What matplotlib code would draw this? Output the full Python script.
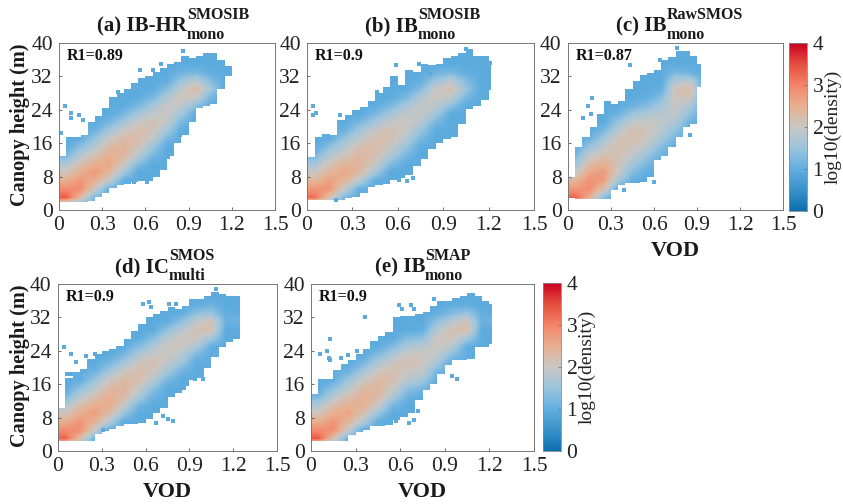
import numpy as np
import matplotlib
matplotlib.use("Agg")
import matplotlib.pyplot as plt
from matplotlib.colors import LinearSegmentedColormap
from matplotlib.patches import Polygon

plt.rcParams['font.family'] = ['Liberation Serif', 'DejaVu Serif']

# log10(density) read per VOD column (width 0.1); each column: first height-row centre, then values every 2 m
A_START = [1, 1, 1, 5, 7, 9, 11, 15, 19, 23, 25, 29]
A_VALS = [
    [1.0, 3.4, 2.9, 2.5, 2.1, 1.7, 1.2, 0.9],
    [1.0, 2.3, 2.9, 2.8, 2.5, 2.2, 1.8, 1.4, 1.0],
    [1.0, 1.2, 2.0, 2.5, 2.75, 2.5, 2.2, 1.8, 1.5, 1.1, 0.8],
    [1.0, 1.9, 2.4, 2.6, 2.5, 2.3, 2.0, 1.6, 1.2, 0.9],
    [1.0, 1.6, 2.1, 2.35, 2.4, 2.3, 2.0, 1.6, 1.2, 0.9],
    [0.9, 1.3, 1.8, 2.1, 2.25, 2.2, 2.0, 1.6, 1.2, 0.9],
    [0.9, 1.2, 1.5, 1.9, 2.1, 2.15, 1.9, 1.6, 1.2, 0.9],
    [0.9, 1.2, 1.6, 1.9, 2.0, 2.0, 1.7, 1.3, 1.0, 0.8],
    [0.9, 1.2, 1.6, 1.9, 2.1, 1.9, 1.5, 1.1, 0.8],
    [0.9, 1.4, 2.0, 2.3, 1.8, 1.2, 0.9],
    [0.8, 1.2, 1.6, 1.3, 1.0, 0.8, 0.7],
    [0.8, 0.7, 0.7],
]
B_START = [1, 1, 1, 5, 7, 9, 11, 15, 19, 23, 25, 29]
B_VALS = [
    [1.0, 3.2, 2.8, 2.4, 2.0, 1.6, 1.2, 0.9],
    [1.0, 2.2, 2.8, 2.7, 2.4, 2.1, 1.8, 1.4, 1.0],
    [1.0, 1.2, 1.9, 2.4, 2.6, 2.4, 2.1, 1.8, 1.5, 1.1, 0.8],
    [1.0, 1.8, 2.3, 2.4, 2.35, 2.2, 1.9, 1.6, 1.2, 0.9],
    [1.0, 1.6, 2.0, 2.2, 2.25, 2.2, 2.0, 1.6, 1.2, 0.9],
    [0.9, 1.3, 1.7, 2.0, 2.15, 2.15, 1.95, 1.6, 1.2, 0.9],
    [0.9, 1.2, 1.5, 1.8, 2.0, 2.05, 1.9, 1.6, 1.2, 0.9],
    [0.9, 1.2, 1.5, 1.8, 1.95, 1.95, 1.7, 1.3, 1.0, 0.8],
    [0.9, 1.2, 1.6, 1.85, 2.05, 1.95, 1.5, 1.1, 0.8],
    [0.9, 1.4, 1.9, 2.2, 1.8, 1.2, 0.9],
    [0.8, 1.2, 1.5, 1.3, 1.0, 0.8, 0.7],
    [0.8, 0.7, 0.7],
]
C_START = [1, 1, 1, 5, 7, 7, 11, 15, 19, 27]
C_VALS = [
    [1.0, 3.3, 2.8, 2.4, 1.9, 1.5, 1.2, 1.0, 0.8],
    [1.0, 2.5, 2.9, 2.85, 2.6, 2.25, 1.9, 1.5, 1.1, 0.9],
    [1.0, 1.3, 2.2, 2.7, 2.75, 2.5, 2.2, 1.9, 1.6, 1.2, 0.9, 0.8],
    [0.9, 1.6, 2.0, 2.1, 2.15, 2.2, 2.1, 1.8, 1.5, 1.1, 0.8],
    [1.0, 1.3, 1.6, 1.9, 2.05, 2.2, 2.2, 1.9, 1.5, 1.1, 0.8],
    [0.8, 1.0, 1.2, 1.5, 1.8, 2.0, 2.1, 2.0, 1.7, 1.3, 1.0, 0.8],
    [0.8, 1.1, 1.3, 1.6, 1.8, 1.9, 1.8, 1.6, 1.3, 1.0, 0.8, 0.8],
    [0.9, 1.2, 1.4, 1.7, 1.9, 2.0, 2.1, 2.1, 1.7, 1.2, 0.9, 0.8],
    [0.9, 1.1, 1.4, 1.7, 2.1, 2.3, 1.8, 1.1, 0.8],
    [0.8, 0.8, 0.8, 0.7],
]
D_START = [1, 1, 1, 5, 7, 9, 11, 15, 17, 21, 25, 29]
D_VALS = [
    [1.0, 3.3, 2.9, 2.5, 2.1, 1.7, 1.2, 0.9],
    [1.0, 2.3, 2.9, 2.8, 2.5, 2.2, 1.8, 1.4, 1.0],
    [1.0, 1.1, 2.0, 2.45, 2.7, 2.5, 2.2, 1.8, 1.5, 1.1, 0.8],
    [0.9, 1.8, 2.3, 2.55, 2.5, 2.3, 2.0, 1.6, 1.2, 0.9],
    [1.0, 1.5, 2.0, 2.3, 2.4, 2.3, 2.0, 1.6, 1.2, 0.9],
    [0.9, 1.2, 1.7, 2.0, 2.25, 2.25, 2.05, 1.7, 1.3, 0.9],
    [0.8, 1.1, 1.4, 1.8, 2.05, 2.2, 2.0, 1.7, 1.3, 0.9],
    [0.9, 1.2, 1.6, 1.9, 2.05, 2.05, 1.8, 1.4, 1.0, 0.8],
    [0.8, 1.1, 1.5, 1.8, 2.0, 2.05, 1.8, 1.4, 1.0, 0.8],
    [0.8, 1.2, 1.7, 2.05, 2.15, 1.9, 1.4, 1.0, 0.8],
    [1.0, 1.6, 2.2, 2.1, 1.5, 1.1, 0.8],
    [0.9, 1.1, 1.0, 0.8],
]
E_START = [1, 1, 1, 5, 7, 9, 11, 13, 17, 21, 25, 27]
E_VALS = [
    [1.0, 3.4, 2.9, 2.5, 2.1, 1.7, 1.2, 0.9],
    [1.0, 2.2, 2.9, 2.8, 2.5, 2.2, 1.8, 1.4, 1.0],
    [1.0, 1.1, 2.0, 2.4, 2.65, 2.45, 2.2, 1.8, 1.5, 1.1, 0.8],
    [0.9, 1.8, 2.2, 2.5, 2.45, 2.3, 2.0, 1.6, 1.2, 0.9],
    [1.0, 1.5, 2.0, 2.3, 2.35, 2.3, 2.05, 1.7, 1.3, 0.9],
    [0.9, 1.2, 1.7, 2.0, 2.2, 2.2, 2.05, 1.7, 1.3, 0.9],
    [0.8, 1.1, 1.4, 1.8, 2.0, 2.15, 2.05, 1.7, 1.3, 0.9],
    [0.9, 1.2, 1.6, 1.9, 2.05, 2.05, 1.8, 1.4, 1.0, 0.8],
    [0.8, 1.2, 1.6, 1.9, 2.05, 2.05, 1.8, 1.4, 1.0, 0.8],
    [0.8, 1.3, 1.8, 2.1, 2.15, 1.8, 1.3, 1.0, 0.8],
    [1.0, 1.6, 2.25, 2.1, 1.5, 1.0, 0.8],
    [0.8, 0.9, 1.1, 1.0, 0.8],
]

# Occupied height range of each VOD interval (width 0.05)
A_UP = [13, 17.5, 17.5, 18, 21, 22.5, 24.5, 27, 28, 29, 30.5, 31.5, 32, 33, 34, 35, 35.5, 37, 36.5, 37, 37.5, 37.5, 36, 34.5]
A_LOW = [2, 2, 2, 2, 2.2, 3.2, 4, 5.2, 6, 6.3, 6.8, 7, 7, 8, 9.5, 13, 16, 18, 21, 24.5, 25, 25.5, 29, 32]
B_UP = [12.7, 17.5, 18.3, 18, 21.5, 22.7, 24, 24.7, 26, 28, 29.5, 32, 30, 33.5, 33, 35, 34.7, 35, 36.3, 37, 37.5, 38.6, 37, 37, 35]
B_LOW = [2.5, 2.5, 2.5, 2.5, 2.5, 2.8, 3.2, 4, 5.6, 6, 6.2, 7.2, 7.6, 8.5, 10.5, 12.3, 14.7, 16, 17, 17.5, 20.7, 24.3, 25, 26.3, 28.7]
C_UP = [8, 15, 17.5, 20, 23, 26, 25.5, 26, 29, 31, 32.3, 32.7, 33.5, 35.9, 36.7, 38.2, 38.2, 37, 35]
C_LOW = [2.8, 2.6, 2.6, 2.6, 2.6, 2.6, 4.8, 6, 6.4, 6.4, 6.8, 8, 12, 13, 15, 17.5, 20, 20.7, 29.5]
D_UP = [10.4, 17.6, 19, 19.6, 22, 23.2, 24, 24.4, 25.2, 26.8, 28.8, 30.4, 32, 32.8, 33.6, 34.4, 34, 34.8, 36.4, 36.4, 37.2, 38, 37.6, 37.2, 37.2]
D_LOW = [2.4, 2.4, 2.4, 2.4, 2.4, 4, 4.8, 5.2, 6, 6.4, 6.4, 6.6, 7.6, 9, 10.4, 13, 14, 15.5, 17, 17.5, 20, 22.5, 25, 26, 26.8]
E_UP = [13.7, 17.3, 17.3, 19.3, 20.9, 21.7, 23.3, 24.4, 26.4, 27.6, 28.4, 32, 32.4, 32.4, 32.8, 33.2, 34.8, 36, 36, 36.7, 37.1, 37.9, 37.1, 36, 35.2]
E_LOW = [2.4, 2.4, 2.4, 2.4, 2.4, 3.8, 4.6, 5, 6, 6, 6.2, 7.4, 8.2, 9, 12.1, 14.5, 16, 18.5, 20.5, 21.7, 21.7, 22, 24.8, 24.8, 25.6]
ENV_END = [1.2, 1.215, 0.93, 1.245, 1.22]

# Sparse isolated cells outside the main cloud
A_SPARSE_V = [0.04, 0.08, 0.08, 0.14, 0.015, 0.17, 0.41, 0.56, 0.65, 0.71, 0.86, 1.19, 0.61, 0.66, 0.84, 0.76, 0.52]
A_SPARSE_H = [25, 23.3, 22, 22.7, 18.5, 21.5, 28.3, 33.5, 33.5, 35, 38.2, 34, 6.8, 9.5, 18, 12.7, 6.8]
B_SPARSE_V = [0.04, 0.06, 0.04, 0.215, 0.46, 0.59, 0.74, 0.79, 0.81, 1.21, 1.05, 0.92, 0.8, 0.75, 0.66, 0.7, 0.66, 0.61, 0.19]
B_SPARSE_H = [25, 23.3, 22.7, 22.7, 28.3, 34.7, 35, 33.5, 32.5, 35.2, 38.6, 17.5, 15.1, 12.7, 10.8, 7.6, 7, 7.2, 2.4]
C_SPARSE_V = [0.6, 0.39, 0.85, 0.17, 0.14, 0.105, 0.16, 0.43, 0.64, 0.76]
C_SPARSE_H = [6.8, 4.8, 18, 26.8, 25, 22, 23, 34.7, 36, 38.7]
D_SPARSE_V = [0.04, 0.09, 0.12, 0.06, 0.09, 0.19, 0.25, 0.38, 0.58, 0.62, 0.64, 0.76, 0.81, 1.08, 1.23, 0.94, 0.99, 0.86, 0.72, 0.75, 0.79, 0.67, 0.31]
D_SPARSE_H = [25, 23.2, 21.4, 18.4, 18.4, 22.8, 23.2, 24, 35.2, 35.8, 34.6, 35.2, 35.2, 38.8, 34, 17.2, 17.2, 15, 8.4, 7.6, 7.2, 6.6, 5]
E_SPARSE_V = [0.69, 0.66, 0.57, 0.72, 0.68, 0.95, 0.98, 0.36, 0.59, 0.61, 0.67, 0.69, 0.83, 0.88, 0.13, 0.06, 0.11, 0.13, 0.12, 0.2, 0.25, 0.31]
E_SPARSE_H = [7.5, 6.8, 7.3, 9.7, 9.7, 18, 17.2, 32.2, 35, 34, 35, 34, 36.5, 35.2, 26.8, 23.3, 24, 21.7, 22.3, 22.3, 23, 24]

X_TICKS = [0, 0.3, 0.6, 0.9, 1.2, 1.5]
X_TICK_LABELS = ['0', '0.3', '0.6', '0.9', '1.2', '1.5']
Y_TICKS = [0, 8, 16, 24, 32, 40]
R1_LABELS = ['R1=0.89', 'R1=0.9', 'R1=0.87', 'R1=0.9', 'R1=0.9']
T_BASE = ['(a) IB-HR', '(b) IB', '(c) IB', '(d) IC', '(e) IB']
T_SUP = ['SMOSIB', 'SMOSIB', 'RawSMOS', 'SMOS', 'SMAP']
T_SUB = ['mono', 'mono', 'mono', 'multi', 'mono']
CMAP_COLORS = [(0, '#0a6fae'), (0.125, '#3a92cb'), (0.25, '#62aee0'), (0.375, '#9cc5de'),
               (0.5, '#c9c7c3'), (0.625, '#e8b090'), (0.75, '#f4846a'), (0.875, '#e44f3e'),
               (1, '#ca0020')]
LOWEST_SHOWN = 0.95
cmap = LinearSegmentedColormap.from_list('density', CMAP_COLORS)
W, H = 843, 504
TXT = '#222222'


def grid(starts, vals):
    g = np.zeros((20, 15))
    for j in range(15):
        s, v = (starts[j], vals[j]) if j < len(vals) else (starts[-1], vals[-1])
        i0 = (s - 1) // 2
        g[:i0, j] = v[0]
        g[i0:i0 + len(v), j] = v
        g[i0 + len(v):, j] = v[-1]
    return np.maximum(g, LOWEST_SHOWN)


def envelope(low, up, end):
    edges = [min(i * 0.05, end) for i in range(len(up) + 1)]
    edges[-1] = end
    verts = []
    for i in range(len(low)):
        verts += [(edges[i], low[i]), (edges[i + 1], low[i])]
    for i in reversed(range(len(up))):
        verts += [(edges[i + 1], up[i]), (edges[i], up[i])]
    return verts


def make_ax(l, r, t, b):
    return fig.add_axes([l / W, 1 - b / H, (r - l) / W, (b - t) / H])


def ftext(x, y, s, **kw):
    return fig.text(x / W, 1 - y / H, s, **kw)


fig = plt.figure(figsize=(W / 100, H / 100), dpi=100)
panels = [
    (A_START, A_VALS, A_LOW, A_UP, A_SPARSE_V, A_SPARSE_H, 59, 275, 43, 210, 187, 31),
    (B_START, B_VALS, B_LOW, B_UP, B_SPARSE_V, B_SPARSE_H, 307, 534, 43, 210, 418, 31),
    (C_START, C_VALS, C_LOW, C_UP, C_SPARSE_V, C_SPARSE_H, 568, 783, 43, 210, 667, 31),
    (D_START, D_VALS, D_LOW, D_UP, D_SPARSE_V, D_SPARSE_H, 58, 277, 284, 451, 169, 272),
    (E_START, E_VALS, E_LOW, E_UP, E_SPARSE_V, E_SPARSE_H, 311, 534, 284, 451, 425, 272),
]
for k, (st, va, lo, up, sv, sh, l, r, t, b, tx, ty) in enumerate(panels):
    ax = make_ax(l, r, t, b)
    im = ax.imshow(grid(st, va), origin='lower', extent=(0, 1.5, 0, 40), aspect='auto',
                   cmap=cmap, vmin=0, vmax=4, interpolation='bilinear')
    im.set_clip_path(Polygon(envelope(lo, up, ENV_END[k]), closed=True, transform=ax.transData))
    ax.scatter(sv, sh, s=6, marker='s', color=cmap(LOWEST_SHOWN / 4), linewidths=0)
    ax.set_xlim(0, 1.5)
    ax.set_ylim(0, 40)
    ax.set_xticks(X_TICKS, X_TICK_LABELS)
    ax.set_yticks(Y_TICKS)
    ax.tick_params(direction='in', length=2.5, width=0.6, color='#555555', labelsize=15.5,
                   labelcolor=TXT, pad=4.5, top=False, right=False)
    for s in ax.spines.values():
        s.set_color('#777777')
        s.set_linewidth(0.7)
    ftext(l + 8, t + 13, R1_LABELS[k], fontsize=11.5, fontweight='bold', color='#111111', va='center')
    ftext(tx, ty, T_BASE[k], fontsize=15, fontweight='bold', ha='right', va='baseline', color='#1a1a1a')
    ftext(tx, ty - 12, T_SUP[k], fontsize=11.5, fontweight='bold', ha='left', va='baseline', color='#1a1a1a')
    ftext(tx, ty + 8, T_SUB[k], fontsize=11.5, fontweight='bold', ha='left', va='baseline', color='#1a1a1a')
    if k in (0, 3):
        ftext(20, (t + b) / 2 - 2, 'Canopy height (m)', fontsize=14.6, fontweight='bold', rotation=90,
              ha='center', va='center', color='#1a1a1a')
    if k in (2, 3, 4):
        ftext((l + r) / 2, b + 41, 'VOD', fontsize=16, fontweight='bold', ha='center', va='center', color='#1a1a1a')

for l, r, t, b in [(789, 807, 43, 211), (543, 561, 283, 451)]:
    cax = make_ax(l, r, t, b)
    cb = fig.colorbar(im, cax=cax)
    cb.set_ticks([0, 1, 2, 3, 4])
    cb.ax.tick_params(direction='in', length=2, width=0.5, color='#666666', labelsize=15.5, labelcolor=TXT, pad=4)
    cb.outline.set_edgecolor('#888888')
    cb.outline.set_linewidth(0.6)
    ftext(r + 26, (t + b) / 2, 'log10(density)', fontsize=14, rotation=90, ha='center', va='center', color=TXT)

fig.savefig('out.png', dpi=100)
